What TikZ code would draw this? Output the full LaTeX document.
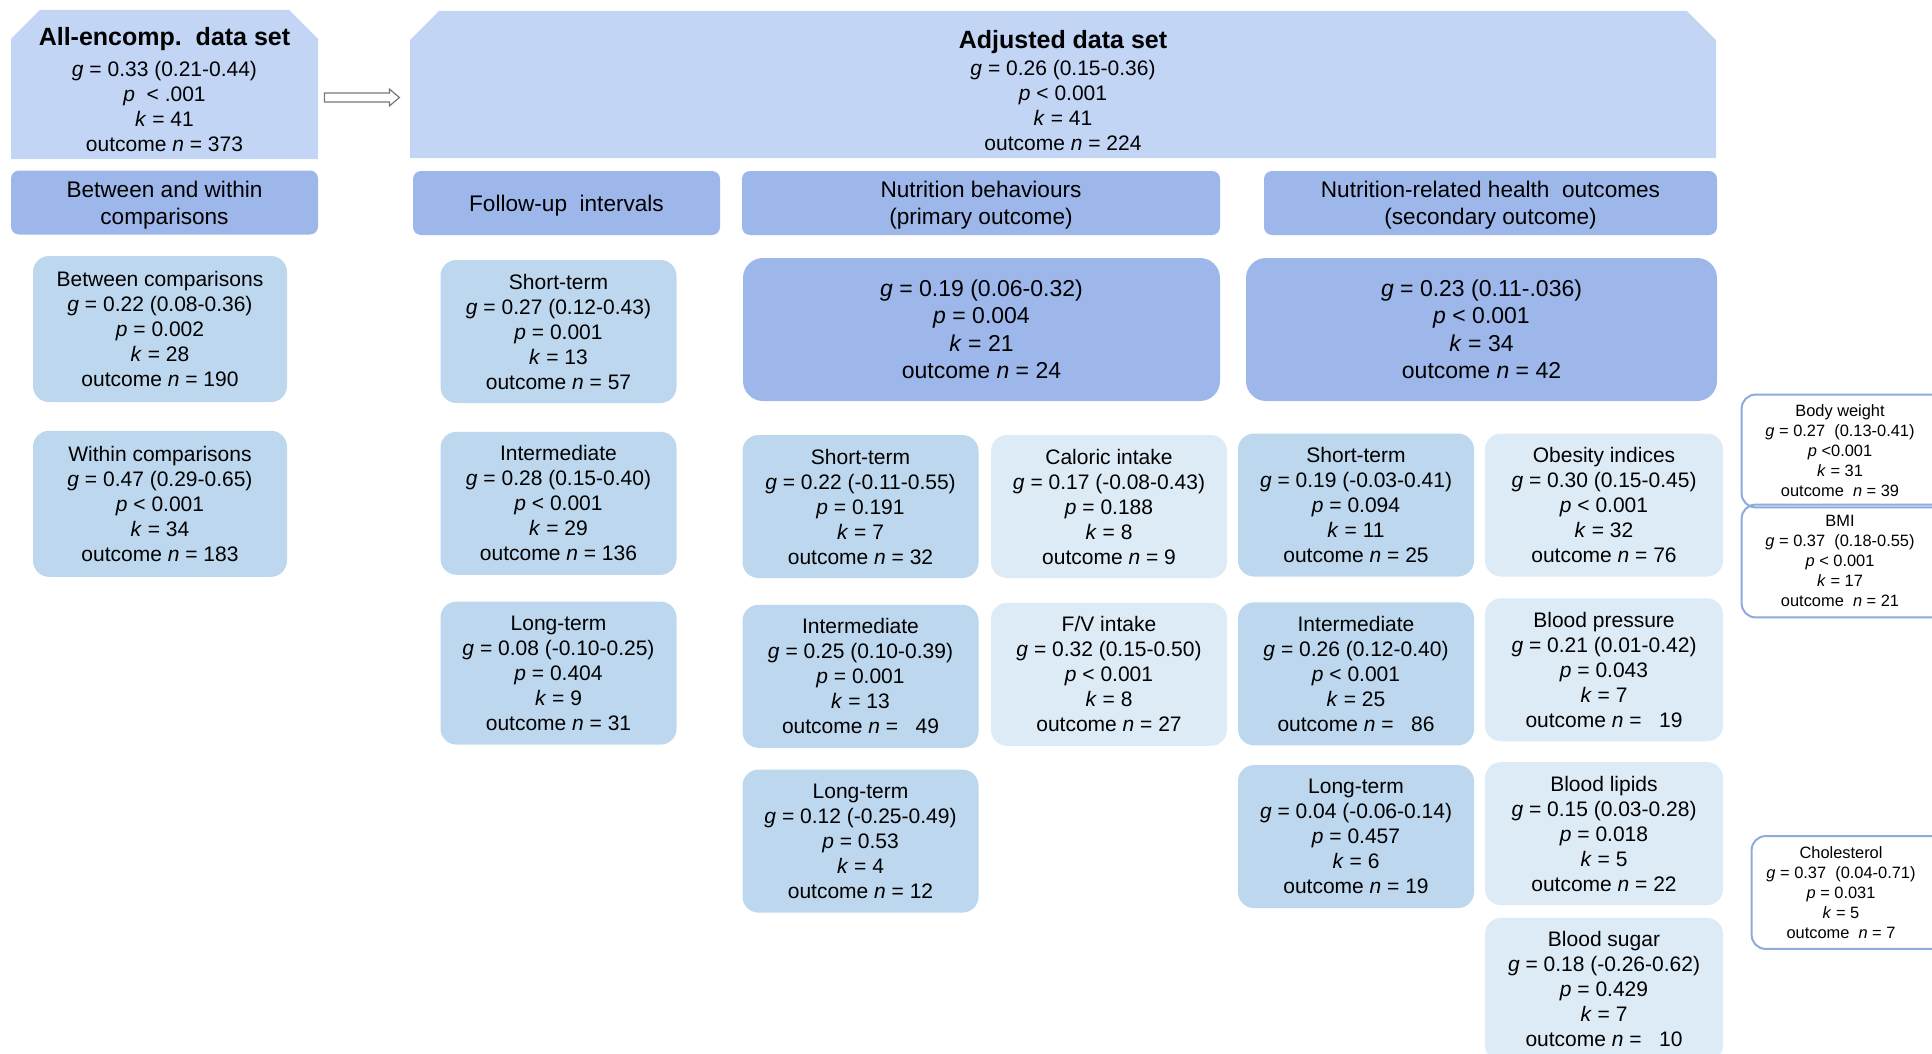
\documentclass[tikz,border=0pt]{standalone}
\usepackage{fontspec}
\setmainfont{Liberation Sans}
\usetikzlibrary{positioning,calc,shapes.misc}

\definecolor{topblue}{RGB}{194,213,245}
\definecolor{headblue}{RGB}{157,183,235}
\definecolor{midblue}{RGB}{189,215,238}
\definecolor{paleblue}{RGB}{221,235,247}
\definecolor{lineblue}{RGB}{143,170,220}
\definecolor{arrowgray}{RGB}{120,120,120}

\newcommand{\stats}[5]{#1\\\textit{g} = #2\\\textit{p} #3\\\textit{k} = #4\\outcome \textit{n} = #5}

\tikzset{
  box/.style={rounded corners=8pt, align=center, inner sep=2pt,
    font=\fontsize{10.5}{12.5}\selectfont, minimum width=118pt, minimum height=71.5pt},
  midbox/.style={box, fill=midblue},
  palebox/.style={box, fill=paleblue},
  bigbox/.style={box, fill=headblue, rounded corners=10pt,
    font=\fontsize{11.5}{13.75}\selectfont, minimum height=71.5pt},
  headbox/.style={fill=headblue, rounded corners=4pt, align=center, inner sep=2pt,
    font=\fontsize{11.3}{13.5}\selectfont, minimum height=32pt},
  topbox/.style={chamfered rectangle, chamfered rectangle corners={north west,north east},
    chamfered rectangle xsep=11pt, fill=topblue, align=center, inner xsep=2pt, inner ysep=0pt,
    font=\fontsize{10.5}{12.5}\selectfont, minimum height=73.5pt},
  outbox/.style={align=center, inner sep=1pt, font=\fontsize{8.2}{10}\selectfont,
    minimum width=98pt, minimum height=56pt},
  outline/.style={draw=lineblue, line width=1pt, rounded corners=7pt},
  hollowarrow/.style={draw=arrowgray, fill=white, line width=0.6pt}
}

\begin{document}
\begin{tikzpicture}[x=0.5pt,y=-0.5pt]
    \clip (0,0) rectangle (1932,1054);

    % data sets
    \node[topbox, minimum width=153.5pt] (allenc) at (164.5,84.5)
      {\rule{0pt}{14.5pt}{\fontsize{12.5}{14}\selectfont\bfseries All-encomp.\ \ data set}\\[3pt]
       \textit{g} = 0.33 (0.21-0.44)\\\textit{p}\ \ < .001\\\textit{k} = 41\\outcome \textit{n} = 373};
    \node[topbox, minimum width=653pt] (adj) at (1063,84.5)
      {\rule{0pt}{15pt}{\fontsize{12.5}{14}\selectfont\bfseries Adjusted data set}\\[1pt]
       \textit{g} = 0.26 (0.15-0.36)\\\textit{p} < 0.001\\\textit{k} = 41\\outcome \textit{n} = 224};
    \draw[hollowarrow] ($(allenc.east)+(6,8.5)$) -- ++(65,0) -- ++(0,-4) -- ++(10,8.5)
      -- ++(-10,8.5) -- ++(0,-4) -- ++(-65,0) -- cycle;

    % headers
    \node[headbox, minimum width=153.5pt] (hdrbw) at (164.5,202.5)
      {\rule{0pt}{10.5pt}Between and within\\comparisons};
    \node[headbox, minimum width=153.5pt] (hdrfu) at (566.5,203)
      {\rule{0pt}{10.5pt}Follow-up\ \ intervals};
    \node[headbox, minimum width=239pt] (hdrnb) at (981,203)
      {\rule{0pt}{10.5pt}Nutrition behaviours\\(primary outcome)};
    \node[headbox, minimum width=226.5pt] (hdrnh) at (1490.5,203)
      {\rule{0pt}{10.5pt}Nutrition-related health\ \ outcomes\\(secondary outcome)};

    % between and within
    \node[midbox, minimum width=127pt, minimum height=73pt] (bw1) at (160,329)
      {\stats{Between comparisons}{0.22 (0.08-0.36)}{= 0.002}{28}{190}};
    \node[midbox, minimum width=127pt, minimum height=73pt, below=14pt of bw1] (bw2)
      {\stats{Within comparisons}{0.47 (0.29-0.65)}{< 0.001}{34}{183}};

    % follow-up intervals
    \node[midbox] (fu1) at (558.5,331.5)
      {\stats{Short-term}{0.27 (0.12-0.43)}{= 0.001}{13}{57}};
    \node[midbox, below=14pt of fu1] (fu2)
      {\stats{Intermediate}{0.28 (0.15-0.40)}{< 0.001}{29}{136}};
    \node[midbox, below=13pt of fu2] (fu3)
      {\stats{Long-term}{0.08 (-0.10-0.25)}{= 0.404}{9}{31}};

    % nutrition behaviours
    \node[bigbox, minimum width=238.5pt] (nbbig) at (981.5,329.5)
      {\textit{g} = 0.19 (0.06-0.32)\\\textit{p} = 0.004\\\textit{k} = 21\\outcome \textit{n} = 24};
    \node[midbox] (nb1) at (860.5,506.5)
      {\stats{Short-term}{0.22 (-0.11-0.55)}{= 0.191}{7}{32}};
    \node[midbox, below=13pt of nb1] (nb2)
      {\stats{Intermediate}{0.25 (0.10-0.39)}{= 0.001}{13}{\ \ 49}};
    \node[midbox, below=10.5pt of nb2] (nb3)
      {\stats{Long-term}{0.12 (-0.25-0.49)}{= 0.53}{4}{12}};
    \node[palebox] (cal) at (1109,506.5)
      {\stats{Caloric intake}{0.17 (-0.08-0.43)}{= 0.188}{8}{9}};
    \node[palebox, below=12pt of cal] (fv)
      {\stats{F/V intake}{0.32 (0.15-0.50)}{< 0.001}{8}{27}};

    % nutrition-related health outcomes
    \node[bigbox, minimum width=235.5pt] (nhbig) at (1481.5,329.5)
      {\textit{g} = 0.23 (0.11-.036)\\\textit{p} < 0.001\\\textit{k} = 34\\outcome \textit{n} = 42};
    \node[midbox] (nh1) at (1356,505)
      {\stats{Short-term}{0.19 (-0.03-0.41)}{= 0.094}{11}{25}};
    \node[midbox, below=12.5pt of nh1] (nh2)
      {\stats{Intermediate}{0.26 (0.12-0.40)}{< 0.001}{25}{\ \ 86}};
    \node[midbox, below=9.5pt of nh2] (nh3)
      {\stats{Long-term}{0.04 (-0.06-0.14)}{= 0.457}{6}{19}};
    \node[palebox, minimum width=119pt] (ob) at (1604,505)
      {\stats{Obesity indices}{0.30 (0.15-0.45)}{< 0.001}{32}{76}};
    \node[palebox, minimum width=119pt, below=10.5pt of ob] (bp)
      {\stats{Blood pressure}{0.21 (0.01-0.42)}{= 0.043}{7}{\ \ 19}};
    \node[palebox, minimum width=119pt, below=10pt of bp] (bl)
      {\stats{Blood lipids}{0.15 (0.03-0.28)}{= 0.018}{5}{22}};
    \node[palebox, minimum width=119pt, below=6pt of bl] (bs)
      {\stats{Blood sugar}{0.18 (-0.26-0.62)}{= 0.429}{7}{\ \ 10}};

    % single indices (cut off at the right edge)
    \node[outbox] (bw) at (1840,451)
      {Body weight\\\textit{g} = 0.27\ \ (0.13-0.41)\\\textit{p} <0.001\\\textit{k} = 31\\outcome\ \ \textit{n} = 39};
    \node[outbox] (bmi) at (1840,561)
      {BMI\\\textit{g} = 0.37\ \ (0.18-0.55)\\\textit{p} < 0.001\\\textit{k} = 17\\outcome\ \ \textit{n} = 21};
    \node[outbox, minimum width=89pt] (chol) at (1841,892.5)
      {Cholesterol\\\textit{g} = 0.37\ \ (0.04-0.71)\\\textit{p} = 0.031\\\textit{k} = 5\\outcome\ \ \textit{n} = 7};
    \draw[outline] ($(bw.north east)+(40,0)$) -- (bw.north west) -- (bw.south west)
      -- ($(bw.south east)+(40,0)$);
    \draw[outline] ($(bmi.north east)+(40,0)$) -- (bmi.north west) -- (bmi.south west)
      -- ($(bmi.south east)+(40,0)$);
    \draw[outline] ($(chol.north east)+(40,0)$) -- (chol.north west) -- (chol.south west)
      -- ($(chol.south east)+(40,0)$);
\end{tikzpicture}
\end{document}
